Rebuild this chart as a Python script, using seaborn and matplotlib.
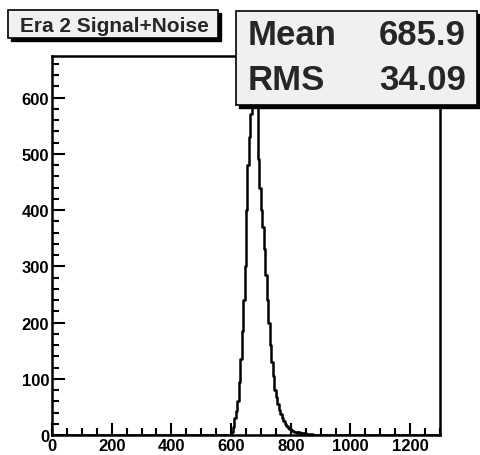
import numpy as np
import pandas as pd
import matplotlib
matplotlib.use("Agg")
import matplotlib.pyplot as plt
from matplotlib.patches import Rectangle
from matplotlib.ticker import MultipleLocator
import seaborn as sns

# ---- data ----
bin_width = 5
bin_starts = [600, 605, 610, 615, 620, 625, 630, 635, 640, 645,
              650, 655, 660, 665, 670, 675, 680, 685, 690, 695,
              700, 705, 710, 715, 720, 725, 730, 735, 740, 745,
              750, 755, 760, 765, 770, 775, 780, 785, 790, 795,
              800, 805, 810, 815, 820, 825, 830, 835, 840, 845,
              850, 855, 860, 865, 870]
counts = [5, 15, 30, 42, 60, 95, 135, 185, 240, 300,
          400, 480, 530, 570, 600, 625, 640, 590, 491, 440,
          400, 370, 330, 285, 240, 200, 160, 130, 105, 80,
          68, 55, 45, 38, 30, 25, 20, 16, 13, 10,
          9, 7, 6, 5, 4, 6, 3, 4, 2, 3,
          2, 1, 2, 1, 1]
title_text = "Era 2 Signal+Noise"
stat_names = ["Mean", "RMS"]
stat_values = ["685.9", "34.09"]
x_range = (0, 1300)
y_range = (0, 674)

sns.set_theme(style="ticks")
plt.rcParams["font.family"] = ["Liberation Sans", "DejaVu Sans"]
plt.rcParams["font.weight"] = "bold"

df = pd.DataFrame({"x": np.array(bin_starts, dtype=float) + bin_width / 2,
                   "w": np.array(counts, dtype=float)})

fig = plt.figure(figsize=(4.81, 4.56), dpi=100)
ax = fig.add_axes([52 / 481, 1 - 436 / 456, (440 - 52) / 481, (436 - 57) / 456])
sns.histplot(data=df, x="x", weights="w", binwidth=bin_width,
             binrange=x_range, element="step",
             fill=False, color="black", linewidth=1.8, ax=ax)

ax.set_xlim(*x_range)
ax.set_ylim(*y_range)
ax.set_xlabel("")
ax.set_ylabel("")
ax.xaxis.set_major_locator(MultipleLocator(200))
ax.xaxis.set_minor_locator(MultipleLocator(50))
ax.yaxis.set_major_locator(MultipleLocator(100))
ax.yaxis.set_minor_locator(MultipleLocator(20))
ax.tick_params(which="both", direction="in", width=1.5, top=False, right=False,
               labelsize=12, colors="black")
ax.tick_params(which="major", length=9, pad=2)
ax.tick_params(which="minor", length=5)
for lab in ax.get_xticklabels() + ax.get_yticklabels():
    lab.set_fontweight("bold")
for s in ax.spines.values():
    s.set_visible(True)
    s.set_linewidth(1.8)
    s.set_color("black")

W, H = 481, 456
def fx(px):
    return px / W
def fy(py):
    return 1 - py / H

# title box
sh = 3
fig.add_artist(Rectangle((fx(8 + sh), fy(39 + sh)), (218 - 8) / W, (39 - 11) / H,
                         transform=fig.transFigure, facecolor="black",
                         edgecolor="black", zorder=9))
fig.add_artist(Rectangle((fx(8), fy(39)), (218 - 8) / W, (39 - 11) / H,
                         transform=fig.transFigure, facecolor="#f0f0f0",
                         edgecolor="black", linewidth=1.2, zorder=10))
fig.text(fx(114), fy(32.5), title_text, ha="center", va="baseline",
         fontsize=15, fontweight="bold", zorder=11)

# stat box
fig.add_artist(Rectangle((fx(236 + sh), fy(106 + sh)), (477 - 236) / W, (106 - 12) / H,
                         transform=fig.transFigure, facecolor="black",
                         edgecolor="black", zorder=9))
fig.add_artist(Rectangle((fx(236), fy(106)), (477 - 236) / W, (106 - 12) / H,
                         transform=fig.transFigure, facecolor="#f0f0f0",
                         edgecolor="black", linewidth=1.2, zorder=10))
baselines = [45, 90]
for name, val, b in zip(stat_names, stat_values, baselines):
    fig.text(fx(248), fy(b), name, ha="left", va="baseline",
             fontsize=25, fontweight="bold", zorder=11)
    fig.text(fx(466), fy(b), val, ha="right", va="baseline",
             fontsize=25, fontweight="bold", zorder=11)

fig.savefig("out.png", dpi=100)
